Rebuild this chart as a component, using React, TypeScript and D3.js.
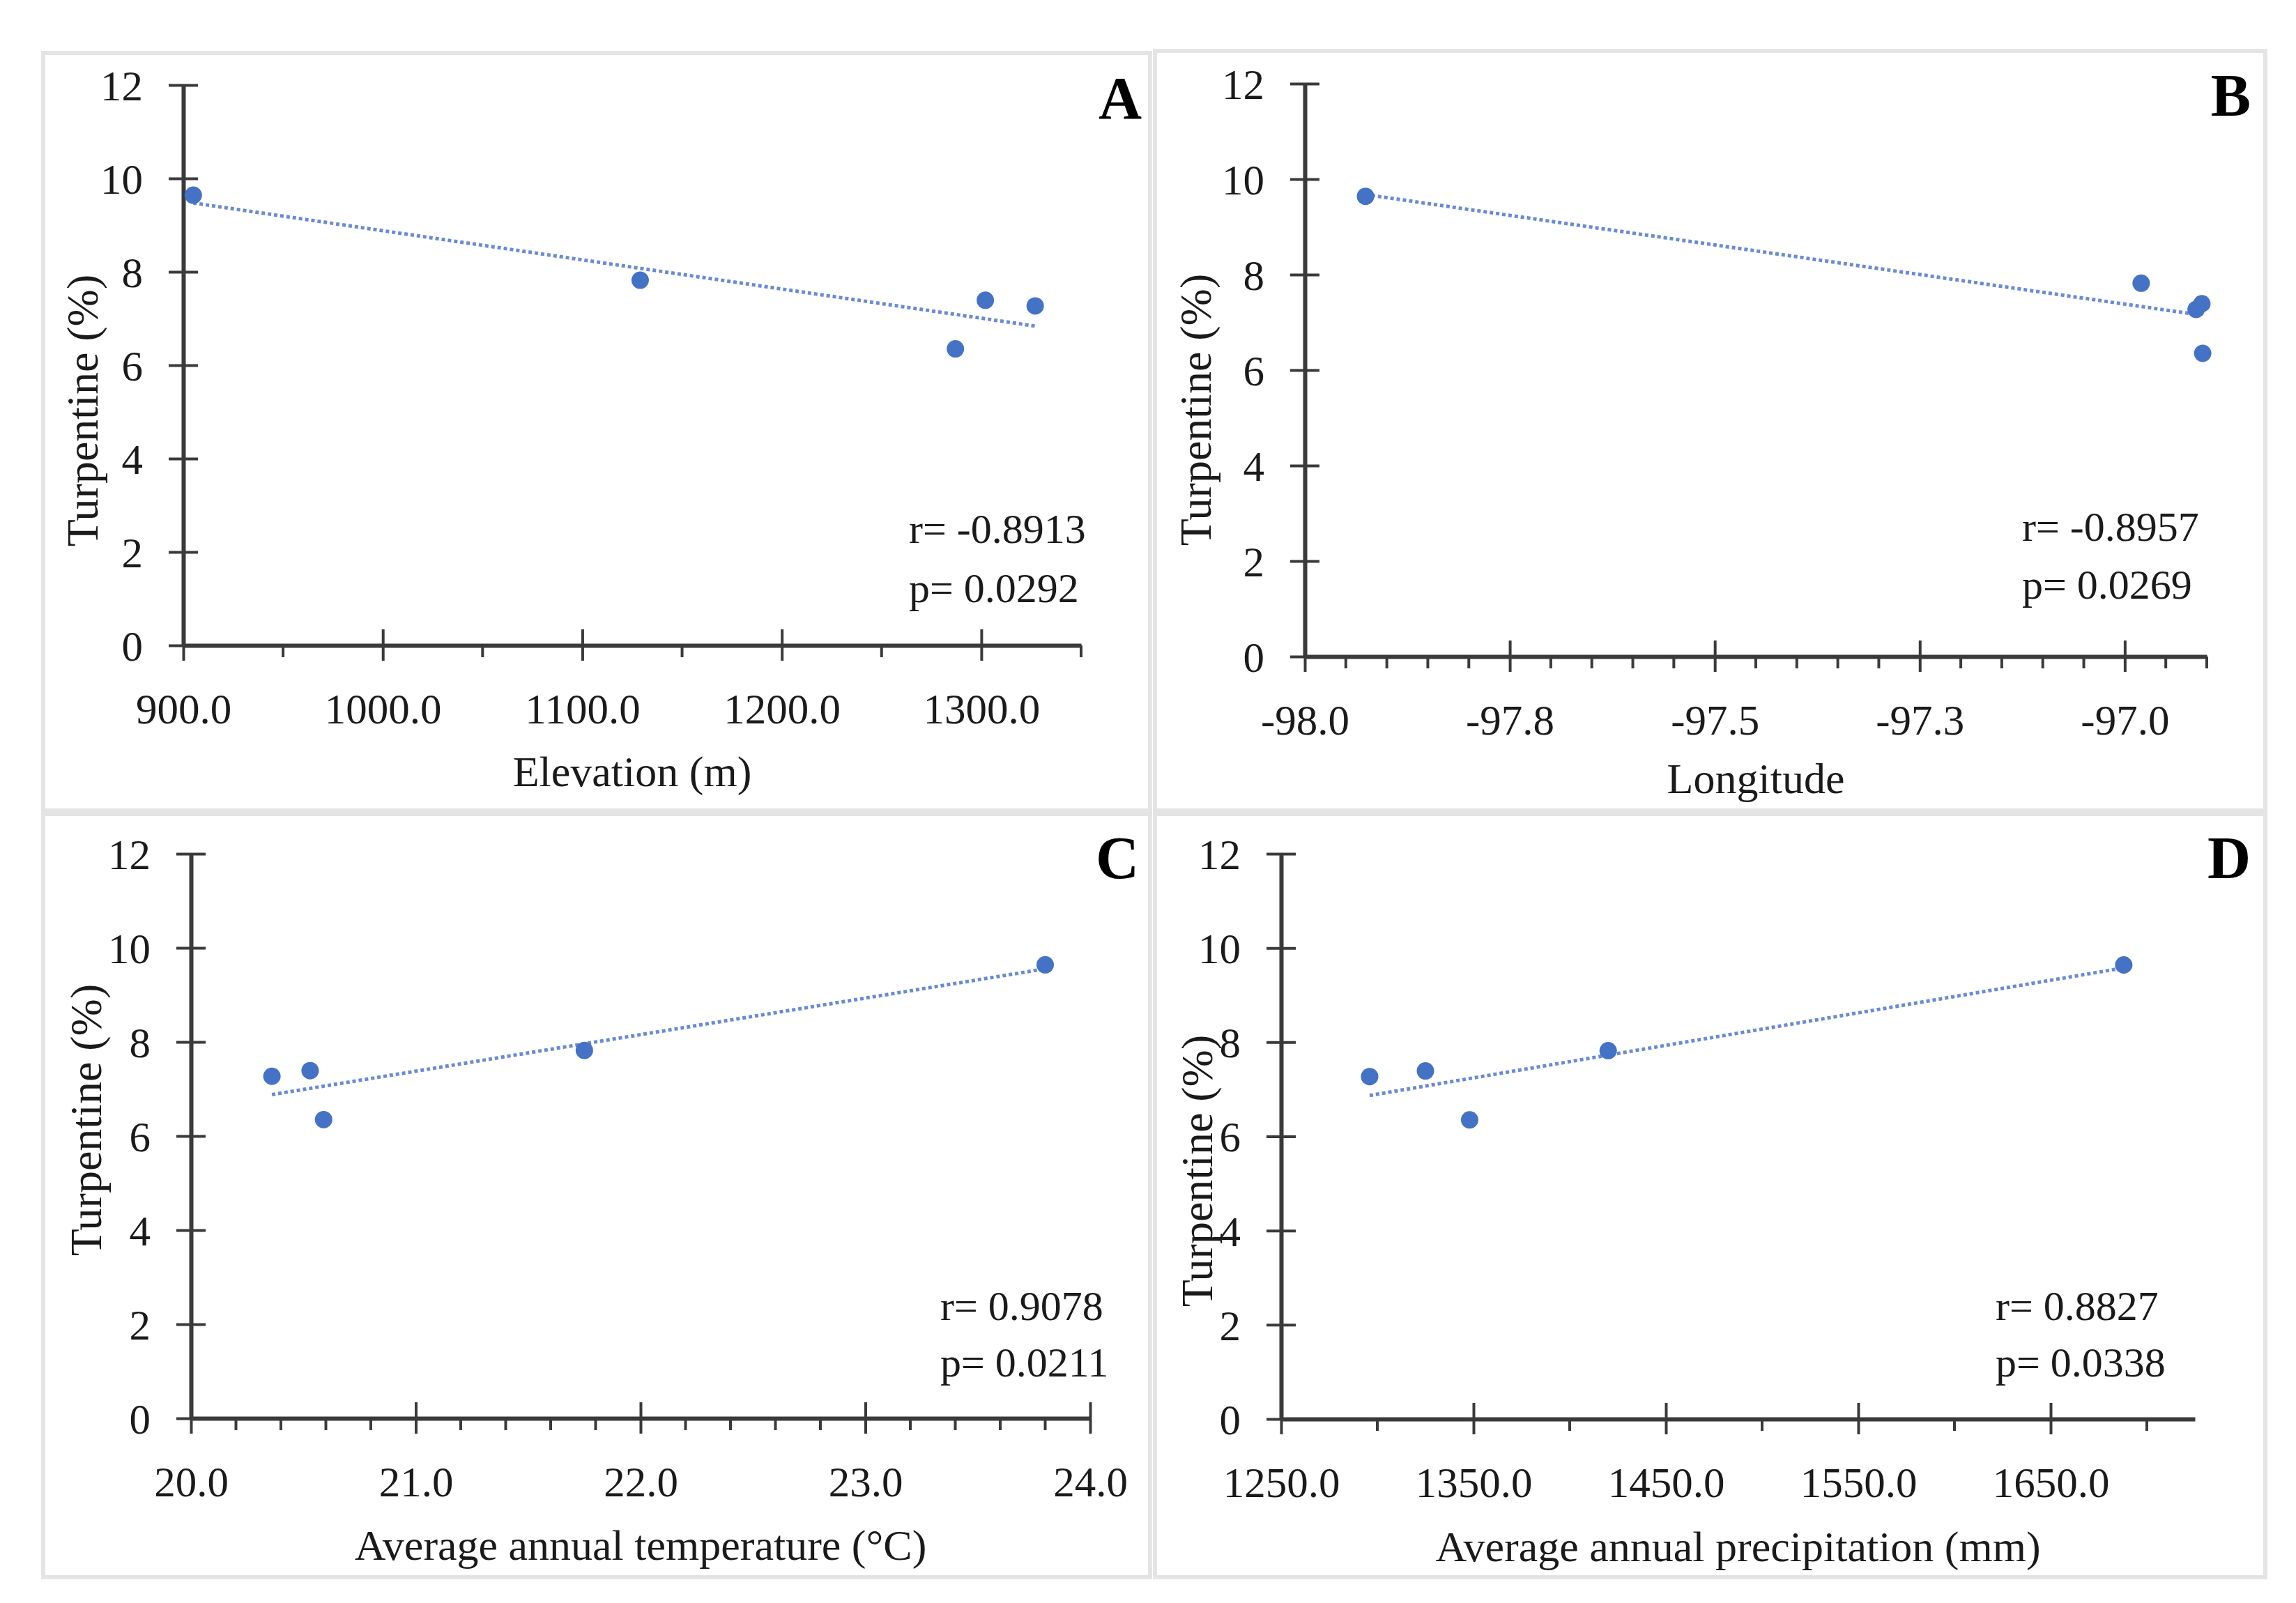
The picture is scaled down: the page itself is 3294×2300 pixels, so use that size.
import { useEffect, useRef } from "react"
import * as d3 from "d3"

// sites in the same order in every array
const turpentine = [9.64, 7.82, 6.35, 7.39, 7.27]
const elevation = [905, 1129, 1287, 1302, 1327]
const longitude = [-97.926, -96.98, -96.905, -96.906, -96.913]
const temperature = [23.8, 21.75, 20.59, 20.53, 20.36]
const precipitation = [1688, 1420, 1348, 1325, 1296]

const yTicks = [0, 2, 4, 6, 8, 10, 12]

const elevationTicks = [900, 1000, 1100, 1200, 1300]
const elevationLabels = ["900.0", "1000.0", "1100.0", "1200.0", "1300.0"]
const longitudeTicks = [-98, -97.75, -97.5, -97.25, -97]
const longitudeLabels = ["-98.0", "-97.8", "-97.5", "-97.3", "-97.0"]
const temperatureTicks = [20, 21, 22, 23, 24]
const temperatureLabels = ["20.0", "21.0", "22.0", "23.0", "24.0"]
const precipitationTicks = [1250, 1350, 1450, 1550, 1650]
const precipitationLabels = ["1250.0", "1350.0", "1450.0", "1550.0", "1650.0"]

const statsA = ["r= -0.8913", "p= 0.0292"]
const statsB = ["r= -0.8957", "p= 0.0269"]
const statsC = ["r= 0.9078", "p= 0.0211"]
const statsD = ["r= 0.8827", "p= 0.0338"]

type Panel = {
  letter: string
  xs: number[]
  domain: [number, number]
  ticks: number[]
  labels: string[]
  minorStep: number
  xTitle: string
  stats: string[]
  frame: [number, number, number, number]
  plot: { left: number; right: number; top: number; bottom: number }
  yTitle: [number, number]
  xTitleY: number
  statsPos: [number, number, number]
  letterPos: [number, number]
}

const panels: Panel[] = [
  {
    letter: "A",
    xs: elevation,
    domain: [900, 1350],
    ticks: elevationTicks,
    labels: elevationLabels,
    minorStep: 50,
    xTitle: "Elevation (m)",
    stats: statsA,
    frame: [62, 76, 1588, 1087],
    plot: { left: 263, right: 1551, top: 122, bottom: 926 },
    yTitle: [140, 589],
    xTitleY: 1128,
    statsPos: [1304, 779, 864],
    letterPos: [1638, 170],
  },
  {
    letter: "B",
    xs: longitude,
    domain: [-98, -96.9],
    ticks: longitudeTicks,
    labels: longitudeLabels,
    minorStep: 0.05,
    xTitle: "Longitude",
    stats: statsB,
    frame: [1657, 73, 1593, 1090],
    plot: { left: 1872, right: 3166, top: 120, bottom: 942 },
    yTitle: [1737, 588],
    xTitleY: 1138,
    statsPos: [2901, 776, 859],
    letterPos: [3229, 166],
  },
  {
    letter: "C",
    xs: temperature,
    domain: [20, 24],
    ticks: temperatureTicks,
    labels: temperatureLabels,
    minorStep: 0.2,
    xTitle: "Average annual temperature (°C)",
    stats: statsC,
    frame: [62, 1168, 1588, 1095],
    plot: { left: 274, right: 1564, top: 1225, bottom: 2035 },
    yTitle: [145, 1607],
    xTitleY: 2238,
    statsPos: [1349, 1894, 1975],
    letterPos: [1634, 1260],
  },
  {
    letter: "D",
    xs: precipitation,
    domain: [1250, 1725],
    ticks: precipitationTicks,
    labels: precipitationLabels,
    minorStep: 50,
    xTitle: "Average annual precipitation (mm)",
    stats: statsD,
    frame: [1657, 1168, 1593, 1095],
    plot: { left: 1838, right: 3149, top: 1225, bottom: 2036 },
    yTitle: [1739, 1680],
    xTitleY: 2240,
    statsPos: [2863, 1894, 1975],
    letterPos: [3229, 1260],
  },
]

const FONT = "'Palatino Linotype', 'Liberation Serif', 'DejaVu Serif', serif"
const INK = "#1a1a1a"
const AXIS = "#3a3a3a"
const BLUE = "#4472c4"

export default function App() {
  const svgRef = useRef<SVGSVGElement>(null)

  useEffect(() => {
    if (!svgRef.current) return
    const svg = d3.select(svgRef.current)
    svg.selectAll("*").remove()

    svg.append("rect").attr("width", 3294).attr("height", 2300).attr("fill", "#fff")

    panels.forEach((p) => {
      const g = svg.append("g")

      // panel frame
      g.append("rect")
        .attr("x", p.frame[0])
        .attr("y", p.frame[1])
        .attr("width", p.frame[2])
        .attr("height", p.frame[3])
        .attr("fill", "none")
        .attr("stroke", "#e4e4e4")
        .attr("stroke-width", 6)

      const x = d3.scaleLinear().domain(p.domain).range([p.plot.left, p.plot.right])
      const y = d3.scaleLinear().domain([0, 12]).range([p.plot.bottom, p.plot.top])

      // minor x ticks (outside only)
      const minor = d3
        .range(p.domain[0], p.domain[1] + p.minorStep / 2, p.minorStep)
        .filter((v) => !p.ticks.some((t) => Math.abs(t - v) < p.minorStep / 10))
      g.append("g")
        .selectAll("line")
        .data(minor)
        .join("line")
        .attr("x1", (d) => x(d))
        .attr("x2", (d) => x(d))
        .attr("y1", p.plot.bottom)
        .attr("y2", p.plot.bottom + 17)
        .attr("stroke", AXIS)
        .attr("stroke-width", 4)

      // x axis
      const xAxis = g
        .append("g")
        .attr("transform", `translate(0,${p.plot.bottom})`)
        .call(
          d3
            .axisBottom(x)
            .tickValues(p.ticks)
            .tickSizeOuter(0)
            .tickSizeInner(22)
            .tickFormat((_, i) => p.labels[i]),
        )
      xAxis.select(".domain").attr("stroke", AXIS).attr("stroke-width", 6)
      xAxis.selectAll(".tick line").attr("y1", -23).attr("y2", 22).attr("stroke", AXIS).attr("stroke-width", 4)
      xAxis
        .selectAll(".tick text")
        .attr("y", 112)
        .attr("dy", null)
        .attr("fill", INK)
        .style("font-family", FONT)
        .style("font-size", "61px")

      // y axis
      const yAxis = g
        .append("g")
        .attr("transform", `translate(${p.plot.left},0)`)
        .call(d3.axisLeft(y).tickValues(yTicks).tickSizeOuter(0).tickSizeInner(21).tickFormat(d3.format("d")))
      yAxis.select(".domain").attr("stroke", AXIS).attr("stroke-width", 6)
      yAxis.selectAll(".tick line").attr("x1", -21).attr("x2", 21).attr("stroke", AXIS).attr("stroke-width", 4)
      yAxis
        .selectAll(".tick text")
        .attr("x", -58)
        .attr("dy", "0.35em")
        .attr("fill", INK)
        .style("font-family", FONT)
        .style("font-size", "61px")

      // linear trend (least squares)
      const mx = d3.mean(p.xs) as number
      const my = d3.mean(turpentine) as number
      const sxy = d3.sum(p.xs, (v, i) => (v - mx) * (turpentine[i] - my))
      const sxx = d3.sum(p.xs, (v) => (v - mx) ** 2)
      const slope = sxy / sxx
      const ext = d3.extent(p.xs) as [number, number]
      const trend = ext.map((v) => [v, my + slope * (v - mx)] as [number, number])
      g.append("path")
        .datum(trend)
        .attr("fill", "none")
        .attr("stroke", "#6a8ad2")
        .attr("stroke-width", 5)
        .attr("stroke-dasharray", "5,4")
        .attr(
          "d",
          d3
            .line<[number, number]>()
            .x((d) => x(d[0]))
            .y((d) => y(d[1])),
        )

      // points
      g.append("g")
        .selectAll("circle")
        .data(p.xs)
        .join("circle")
        .attr("cx", (d) => x(d))
        .attr("cy", (_, i) => y(turpentine[i]))
        .attr("r", 12.5)
        .attr("fill", BLUE)

      // titles
      g.append("text")
        .attr("transform", `translate(${p.yTitle[0]},${p.yTitle[1]}) rotate(-90)`)
        .attr("text-anchor", "middle")
        .attr("fill", INK)
        .style("font-family", FONT)
        .style("font-size", "64px")
        .text("Turpentine (%)")

      g.append("text")
        .attr("x", (p.plot.left + p.plot.right) / 2)
        .attr("y", p.xTitleY)
        .attr("text-anchor", "middle")
        .attr("fill", INK)
        .style("font-family", FONT)
        .style("font-size", "62px")
        .text(p.xTitle)

      // correlation stats
      p.stats.forEach((s, i) => {
        g.append("text")
          .attr("x", p.statsPos[0])
          .attr("y", p.statsPos[1 + i])
          .attr("fill", INK)
          .style("font-family", FONT)
          .style("font-size", "60px")
          .text(s)
      })

      // panel letter
      g.append("text")
        .attr("x", p.letterPos[0])
        .attr("y", p.letterPos[1])
        .attr("text-anchor", "end")
        .attr("fill", "#000")
        .style("font-family", FONT)
        .style("font-size", "86px")
        .style("font-weight", "bold")
        .text(p.letter)
    })
  }, [])

  return (
    <svg
      ref={svgRef}
      width={3294}
      height={2300}
      style={{ position: "absolute", left: 0, top: 0, display: "block" }}
    />
  )
}
